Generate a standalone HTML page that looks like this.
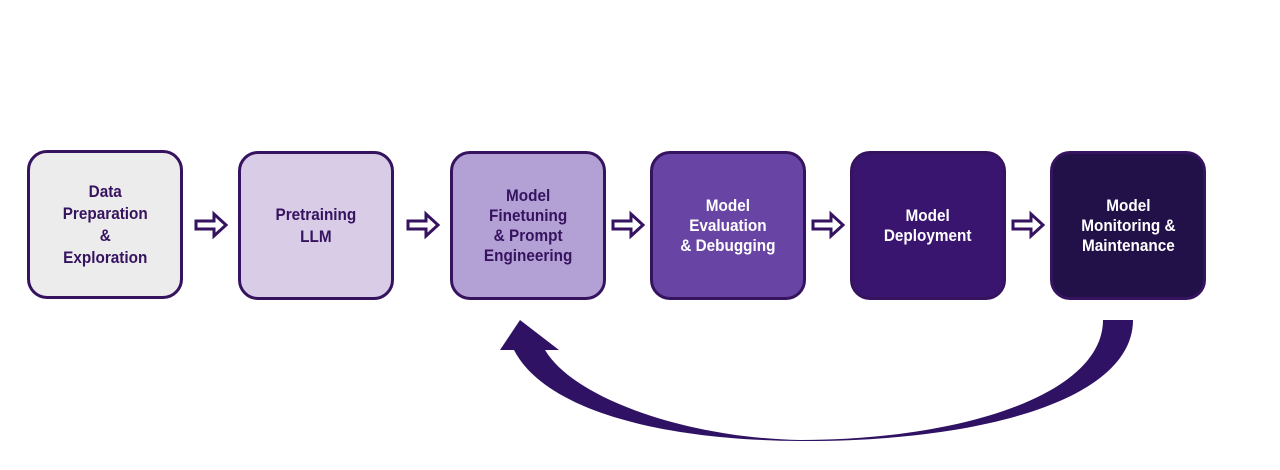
<!DOCTYPE html>
<html><head><style>
body{margin:0;width:1280px;height:470px;background:#fff;position:relative;overflow:hidden;font-family:"Liberation Sans",sans-serif}
.b{position:absolute;top:151px;width:150px;height:143px;border:3px solid #36135f;border-radius:20px;display:flex;align-items:center;justify-content:center;text-align:center;font-weight:bold;font-size:17px;line-height:21px;color:#36135f}
.b span{display:inline-block;transform:scaleX(0.9);white-space:nowrap}
.w{color:#fff}
</style></head><body>
<div class="b" style="left:27px;top:150px;background:#ececec;line-height:22px"><span>Data<br>Preparation<br>&amp;<br>Exploration</span></div>
<div class="b" style="left:238px;background:#d9cce6;line-height:22px"><span>Pretraining<br>LLM</span></div>
<div class="b" style="left:450px;background:#b3a0d4;line-height:20px"><span>Model<br>Finetuning<br>&amp; Prompt<br>Engineering</span></div>
<div class="b w" style="left:650px;background:#6845a4;line-height:20px"><span>Model<br>Evaluation<br>&amp; Debugging</span></div>
<div class="b w" style="left:850px;background:#391570;line-height:20px"><span>Model<br>Deployment</span></div>
<div class="b w" style="left:1050px;background:#221049;line-height:20px"><span>Model<br>Monitoring &amp;<br>Maintenance</span></div>
<svg width="1280" height="470" style="position:absolute;left:0;top:0">
<defs><path id="a" d="M0,-4 H18 V-11 L30,0 L18,11 V4 H0 Z" fill="#fff" stroke="#36135f" stroke-width="3" stroke-linejoin="miter"/></defs>
<use href="#a" x="196" y="225"/>
<use href="#a" x="408" y="225"/>
<use href="#a" x="613" y="225"/>
<use href="#a" x="813" y="225"/>
<use href="#a" x="1013" y="225"/>
<path d="M1133,320 C1133,400 980,442 800,441 C660,440 545,410 514,350 L500,350 L520,320 L559,350 L545,350 C575,400 690,438 800,440 C960,440 1103,395 1103,320 Z" fill="#2f1263"/>
</svg>
</body></html>
